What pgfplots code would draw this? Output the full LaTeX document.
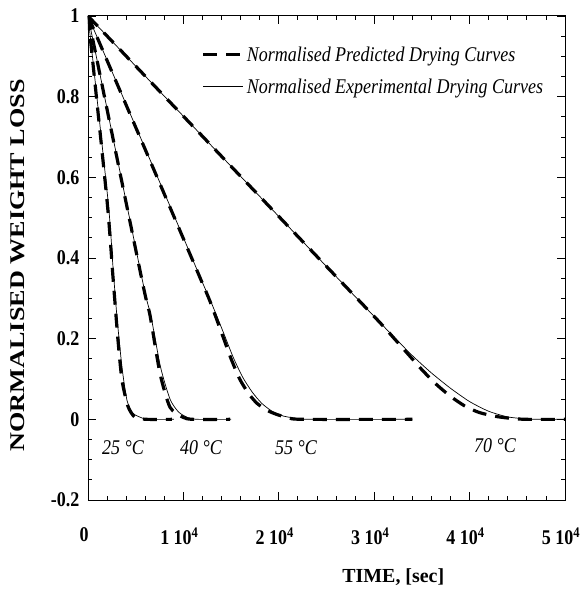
\documentclass[border=0pt]{standalone}
\usepackage{fontspec}
\setmainfont{Liberation Serif}
\newfontfamily\cf[FakeStretch=0.86]{Liberation Serif}
\newfontfamily\yf[FakeStretch=1.25]{Liberation Serif}
\usepackage{pgfplots}
\pgfplotsset{compat=1.18}
\begin{document}
\begin{tikzpicture}
\begin{axis}[
 scale only axis, width=477bp, height=484bp,
 xmin=0, xmax=50000, ymin=-0.2, ymax=1,
 xtick={0,10000,20000,30000,40000,50000},
 xticklabels={0, 1 10\textsuperscript{4}, 2 10\textsuperscript{4}, 3 10\textsuperscript{4}, 4 10\textsuperscript{4}, 5 10\textsuperscript{4}},
 ytick={-0.2,0,0.2,0.4,0.6,0.8,1},
 yticklabels={-0.2,0,0.2,0.4,0.6,0.8,1},
 minor x tick num=4, minor y tick num=3,
 scaled x ticks=false,
 tick align=inside,
 major tick length=8bp, minor tick length=4bp,
 axis line style={line width=1pt},
 every tick/.style={line width=0.8pt, black},
 xticklabel style={font=\cf\bfseries\fontsize{21}{24}\selectfont, yshift=-24bp, xshift=-4bp},
 yticklabel style={font=\cf\bfseries\fontsize{21}{24}\selectfont, xshift=-5bp},
 xlabel={TIME, [sec]},
 xlabel style={font=\bfseries\fontsize{20}{24}\selectfont, at={(axis description cs:0.64,0)}, anchor=north, yshift=-65bp},
 ylabel={NORMALISED WEIGHT LOSS},
 ylabel style={font=\yf\bfseries\fontsize{21}{24}\selectfont, at={(axis description cs:-0.125,0.485)}, anchor=south},
 legend style={draw=none, fill=none, at={(rel axis cs:0.965,0.945)}, anchor=north east, font=\cf\itshape\fontsize{21}{24}\selectfont, row sep=12bp},
 legend cell align=left,
 legend image code/.code={\draw[#1] (0bp,0bp) -- (40bp,0bp);},
 pred/.style={black, line width=3.2pt, dash pattern=on 14bp off 9bp},
 expc/.style={black, line width=0.7pt},
]
% 25 C
\addplot[pred, smooth, tension=0.4] coordinates {(0,1) (1992,0.543) (2621,0.352) (3145,0.196) (3564,0.097) (4193,0.032) (4927,0.005) (6184,0) (8800,0)};
\addlegendentry{Normalised Predicted Drying Curves}
\addplot[expc, smooth, tension=0.4] coordinates {(0,1) (2096,0.543) (2621,0.377) (3040,0.253) (3564,0.129) (4088,0.047) (4717,0.015) (5765,0.0025) (6500,0) (9000,0)};
\addlegendentry{Normalised Experimental Drying Curves}
% 40 C
\addplot[pred, smooth, tension=0.4, forget plot] coordinates {(0,1) (5660,0.345) (6499,0.258) (7547,0.114) (8595,0.030) (9958,0.005) (11000,0) (14900,0)};
\addplot[expc, smooth, tension=0.4, forget plot] coordinates {(0,1) (5700,0.345) (6550,0.262) (7600,0.13) (8600,0.05) (9500,0.018) (10500,0.004) (11500,0) (15000,0)};
% 55 C
\addplot[pred, smooth, tension=0.4, forget plot] coordinates {(0,1) (8300,0.542) (11800,0.348) (12800,0.292) (14150,0.205) (15000,0.15) (15900,0.10) (16800,0.065) (17700,0.040) (18800,0.022) (19800,0.012) (21000,0.004) (22500,0) (34000,0)};
\addplot[expc, smooth, tension=0.4, forget plot] coordinates {(0,1) (8300,0.545) (11800,0.35) (13000,0.285) (14200,0.215) (15200,0.155) (16200,0.105) (17200,0.068) (18200,0.04) (19300,0.02) (20500,0.008) (22000,0.002) (23500,0) (34000,0)};
% 70 C
\addplot[pred, smooth, tension=0.4, forget plot] coordinates {(0,1) (20000,0.503) (30000,0.255) (32000,0.203) (33500,0.163) (35000,0.123) (36500,0.087) (38000,0.057) (39500,0.033) (41000,0.017) (42800,0.007) (44500,0.002) (46000,0) (50000,0)};
\addplot[expc, smooth, tension=0.4, forget plot] coordinates {(0,1) (20000,0.503) (30000,0.255) (32000,0.206) (34000,0.158) (36000,0.115) (38000,0.077) (40000,0.044) (42000,0.02) (44000,0.006) (46000,0.001) (47500,0) (50000,0)};
\node[font=\cf\itshape\fontsize{21}{24}\selectfont] at (axis cs:3670,-0.07) {25 °C};
\node[font=\cf\itshape\fontsize{21}{24}\selectfont] at (axis cs:11850,-0.07) {40 °C};
\node[font=\cf\itshape\fontsize{21}{24}\selectfont] at (axis cs:21800,-0.07) {55 °C};
\node[font=\cf\itshape\fontsize{21}{24}\selectfont] at (axis cs:42660,-0.065) {70 °C};
\end{axis}
\pgfresetboundingbox
\path ([shift={(-88bp,-91bp)}]current axis.south west) rectangle ([shift={(20bp,16bp)}]current axis.north east);
\end{tikzpicture}
\end{document}
